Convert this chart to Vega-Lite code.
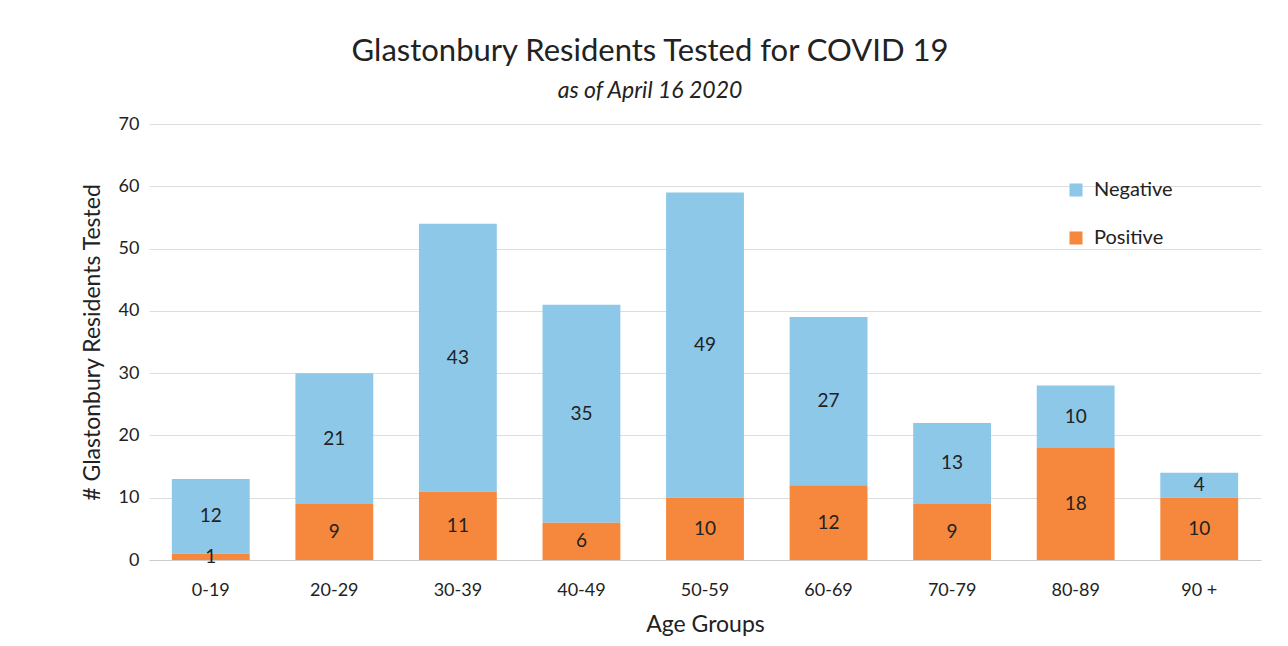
{
  "$schema": "https://vega.github.io/schema/vega-lite/v6.json",
  "width": 1112,
  "height": 436,
  "autosize": {"type": "none"},
  "padding": {"left": 149, "top": 124, "right": 27, "bottom": 86},
  "background": "white",
  "config": {
    "font": "Lato",
    "view": {"stroke": null}
  },
  "title": {
    "text": "Glastonbury Residents Tested for COVID 19",
    "subtitle": "as of April 16 2020",
    "fontSize": 31,
    "fontWeight": "normal",
    "color": "#222222",
    "subtitleFontSize": 23,
    "subtitleFontStyle": "italic",
    "subtitleColor": "#222222",
    "subtitlePadding": 12,
    "anchor": "middle",
    "dx": -55,
    "offset": 11
  },
  "data": {
    "values": [
      {"age": "0-19", "status": "Negative", "count": 12},
      {"age": "0-19", "status": "Positive", "count": 1},
      {"age": "20-29", "status": "Negative", "count": 21},
      {"age": "20-29", "status": "Positive", "count": 9},
      {"age": "30-39", "status": "Negative", "count": 43},
      {"age": "30-39", "status": "Positive", "count": 11},
      {"age": "40-49", "status": "Negative", "count": 35},
      {"age": "40-49", "status": "Positive", "count": 6},
      {"age": "50-59", "status": "Negative", "count": 49},
      {"age": "50-59", "status": "Positive", "count": 10},
      {"age": "60-69", "status": "Negative", "count": 27},
      {"age": "60-69", "status": "Positive", "count": 12},
      {"age": "70-79", "status": "Negative", "count": 13},
      {"age": "70-79", "status": "Positive", "count": 9},
      {"age": "80-89", "status": "Negative", "count": 10},
      {"age": "80-89", "status": "Positive", "count": 18},
      {"age": "90 +", "status": "Negative", "count": 4},
      {"age": "90 +", "status": "Positive", "count": 10}
    ]
  },
  "encoding": {
    "x": {
      "field": "age",
      "type": "nominal",
      "sort": null,
      "scale": {"paddingInner": 0.37, "paddingOuter": 0.185},
      "axis": {
        "title": "Age Groups",
        "titleFontSize": 23,
        "titleFontWeight": "normal",
        "titleColor": "#222222",
        "titlePadding": 14,
        "labelAngle": 0,
        "labelFontSize": 18,
        "labelColor": "#222222",
        "labelPadding": 21,
        "ticks": false,
        "domain": true,
        "domainColor": "#cccccc"
      }
    },
    "y": {
      "field": "count",
      "type": "quantitative",
      "stack": "zero",
      "scale": {"domain": [0, 70]},
      "axis": {
        "title": "# Glastonbury Residents Tested",
        "titleFontSize": 23,
        "titleFontWeight": "normal",
        "titleColor": "#222222",
        "titlePadding": 14,
        "values": [0, 10, 20, 30, 40, 50, 60, 70],
        "labelFontSize": 18,
        "labelColor": "#222222",
        "labelPadding": 10,
        "ticks": false,
        "domain": false,
        "grid": true,
        "gridColor": "#dddddd",
        "gridWidth": 1
      }
    },
    "order": {"field": "status", "sort": "descending"}
  },
  "layer": [
    {
      "mark": {"type": "bar"},
      "encoding": {
        "color": {
          "field": "status",
          "type": "nominal",
          "scale": {"domain": ["Negative", "Positive"], "range": ["#8dc8e8", "#f5883c"]},
          "legend": {
            "title": null,
            "orient": "none",
            "legendX": 917,
            "legendY": 56,
            "symbolType": "square",
            "symbolSize": 170,
            "symbolStrokeWidth": 0,
            "labelFontSize": 20,
            "labelColor": "#222222",
            "labelOffset": 8,
            "rowPadding": 28
          }
        }
      }
    },
    {
      "mark": {"type": "text", "fontSize": 19, "color": "#222222", "baseline": "middle"},
      "encoding": {
        "y": {"field": "count", "type": "quantitative", "stack": "zero", "bandPosition": 0.5},
        "text": {"field": "count", "type": "quantitative"}
      }
    }
  ]
}
